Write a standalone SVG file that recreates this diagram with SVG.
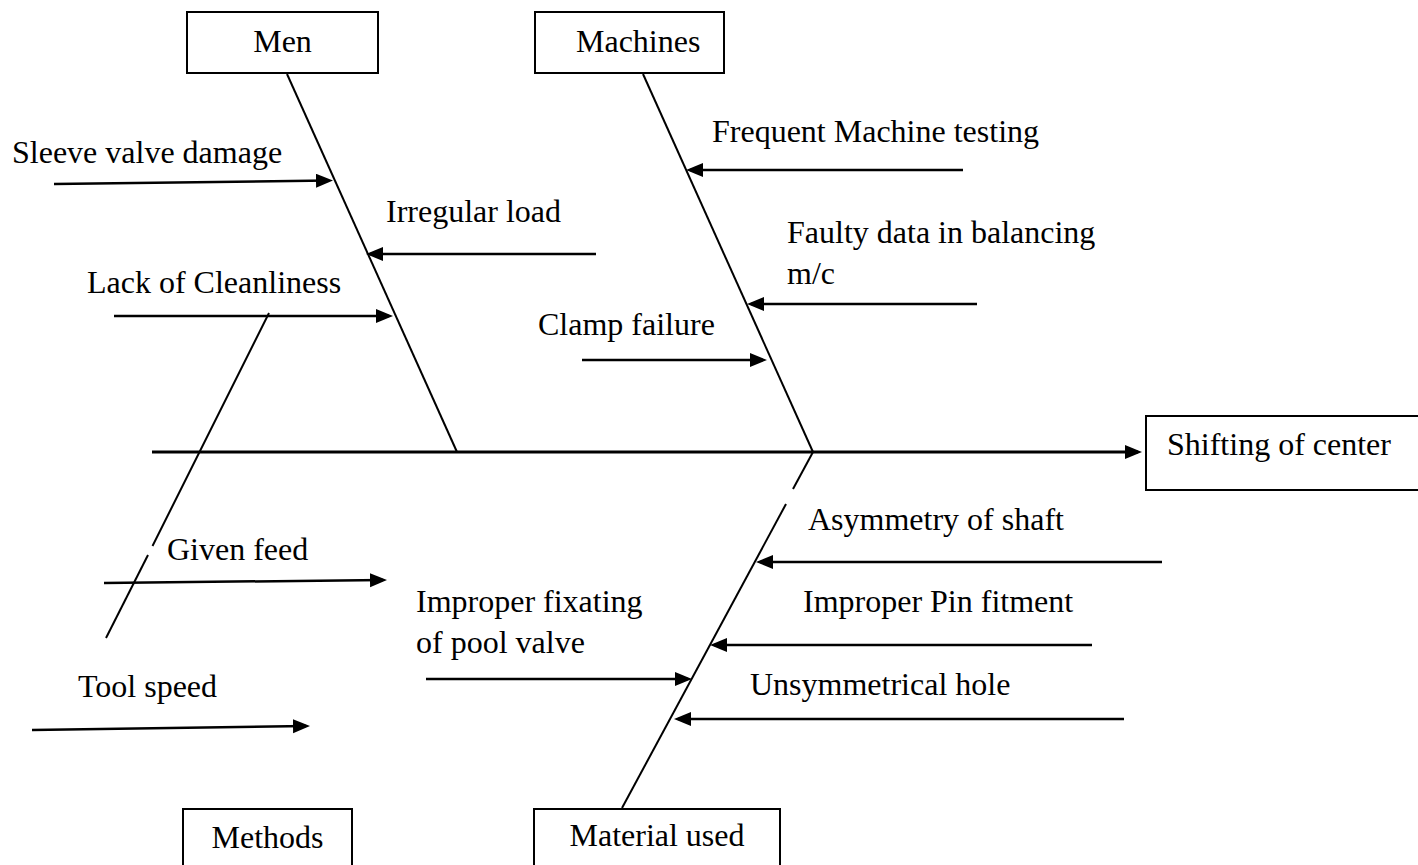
<svg xmlns="http://www.w3.org/2000/svg" width="1418" height="865" viewBox="0 0 1418 865">
<style>
text{font-family:'Liberation Serif','DejaVu Serif',serif;font-size:32px;fill:#000}
.box{fill:#fff;stroke:#000;stroke-width:2}
.bone{stroke:#000;stroke-width:2;fill:none}
.arr{stroke:#000;stroke-width:2.5;fill:none;marker-end:url(#ah)}
.spine{stroke:#000;stroke-width:3;fill:none;marker-end:url(#ah)}
</style>
<defs>
<marker id="ah" markerUnits="userSpaceOnUse" markerWidth="18" markerHeight="16" refX="13" refY="7" orient="auto" viewBox="0 0 18 16">
<path d="M0,0 L17,7 L0,14 z" fill="#000"/>
</marker>
</defs>
<rect width="1418" height="865" fill="#fff"/>
<g id="connectors">
<line class="spine" x1="152" y1="452" x2="1138" y2="452"/>
<line class="bone" x1="287" y1="74" x2="457" y2="452"/>
<line class="bone" x1="643" y1="74" x2="813" y2="452"/>
<line class="bone" x1="269" y1="313" x2="152.5" y2="546"/>
<line class="bone" x1="148" y1="555" x2="106" y2="638"/>
<line class="bone" x1="813" y1="452" x2="793" y2="489"/>
<line class="bone" x1="786" y1="504" x2="622" y2="808"/>
<line class="arr" x1="54" y1="184" x2="329" y2="180.5"/>
<line class="arr" x1="596" y1="254" x2="370" y2="254"/>
<line class="arr" x1="114" y1="316" x2="389" y2="316"/>
<line class="arr" x1="963" y1="170" x2="690" y2="170"/>
<line class="arr" x1="977" y1="304" x2="751" y2="304"/>
<line class="arr" x1="582" y1="360" x2="763" y2="360"/>
<line class="arr" x1="104" y1="583" x2="383" y2="580"/>
<line class="arr" x1="32" y1="730" x2="306" y2="726"/>
<line class="arr" x1="426" y1="679" x2="688" y2="679"/>
<line class="arr" x1="1162" y1="562" x2="760" y2="562"/>
<line class="arr" x1="1092" y1="645" x2="714" y2="645"/>
<line class="arr" x1="1124" y1="719" x2="678" y2="719"/>
</g>
<g font-family="Liberation Serif, serif">
<g id="men"><rect class="box" x="187" y="12" width="191" height="61"/><text x="282.5" y="52" text-anchor="middle">Men</text></g>
<g id="machines"><rect class="box" x="535" y="12" width="189" height="61"/><text x="576" y="52">Machines</text></g>
<g id="effect"><rect class="box" x="1146" y="416" width="290" height="74"/><text x="1167" y="455">Shifting of center</text></g>
<g id="methods"><rect class="box" x="183" y="809" width="169" height="80"/><text x="267.5" y="848" text-anchor="middle">Methods</text></g>
<g id="material"><rect class="box" x="534" y="809" width="246" height="80"/><text x="657" y="846" text-anchor="middle">Material used</text></g>
<g id="labels">
<text x="12" y="163">Sleeve valve damage</text>
<text x="386" y="222">Irregular load</text>
<text x="87" y="293">Lack of Cleanliness</text>
<text x="712" y="142">Frequent Machine testing</text>
<text x="787" y="243">Faulty data in balancing</text>
<text x="787" y="284">m/c</text>
<text x="538" y="335">Clamp failure</text>
<text x="167" y="560">Given feed</text>
<text x="78" y="697">Tool speed</text>
<text x="416" y="612">Improper fixating</text>
<text x="416" y="653">of pool valve</text>
<text x="808" y="530">Asymmetry of shaft</text>
<text x="803" y="612">Improper Pin fitment</text>
<text x="750" y="695">Unsymmetrical hole</text>
</g>
</g>
</svg>
